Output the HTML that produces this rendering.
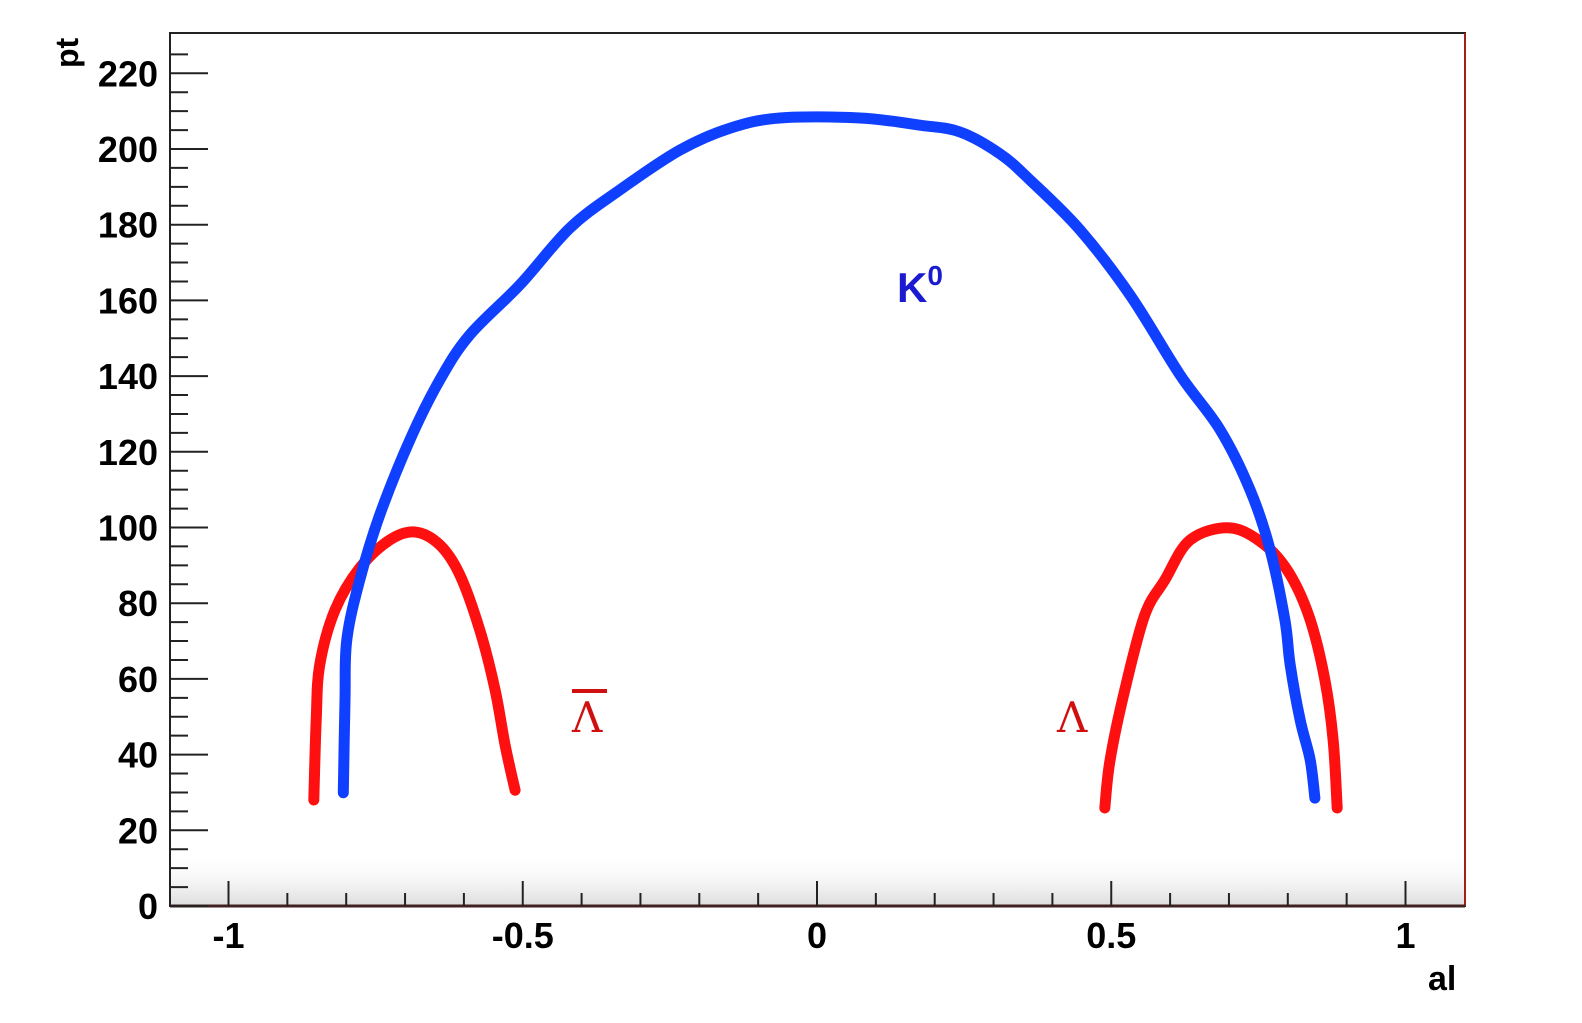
<!DOCTYPE html>
<html><head><meta charset="utf-8"><style>
html,body{margin:0;padding:0;background:#fff;}
svg{display:block;font-family:"Liberation Sans",sans-serif;}
</style></head><body>
<svg id="chart" width="1582" height="1023" viewBox="0 0 1582 1023" xmlns="http://www.w3.org/2000/svg">
<defs><linearGradient id="noise" x1="0" y1="0" x2="0" y2="1"><stop offset="0" stop-color="#fff" stop-opacity="0"/><stop offset="1" stop-color="#bbb" stop-opacity="0.5"/></linearGradient></defs>
<rect x="170" y="850" width="1295" height="56" fill="url(#noise)"/>
<g id="axes"></g>
<g id="series"></g>
<text x="0" y="0" transform="translate(78,68) rotate(-90)" font-size="32" font-weight="bold">pt</text>
<text x="1428" y="990" font-size="34" font-weight="bold">al</text>
<text x="897" y="302" font-size="42" font-weight="bold" fill="#1a1ad0">K<tspan font-size="28" dy="-17">0</tspan></text>
<g><line x1="572" y1="691" x2="607" y2="691" stroke="#d01010" stroke-width="4"/><text x="572" y="732" font-size="42" fill="#d01010" font-family="'DejaVu Serif',serif">Λ</text></g>
<text x="1057" y="732" font-size="42" fill="#d01010" font-family="'DejaVu Serif',serif">Λ</text>
</svg>
<script>
const xTicks=[-1,-0.5,0,0.5,1];
const xTickLabels=["-1","-0.5","0","0.5","1"];
const yTicks=[0,20,40,60,80,100,120,140,160,180,200,220];
const k0Al=[-0.805,-0.802,-0.799,-0.777,-0.743,-0.692,-0.641,-0.590,-0.505,-0.420,-0.335,-0.233,-0.148,-0.063,0.073,0.175,0.243,0.311,0.362,0.447,0.532,0.617,0.685,0.736,0.770,0.795,0.804,0.821,0.838,0.846];
const k0Pt=[29.9,54.4,70.3,86.1,103.3,123.1,139.0,150.9,164.1,179.1,189.2,199.7,205.5,208.2,208.2,206.3,204.5,198.7,191.8,178.6,161.4,140.3,125.8,109.9,94.1,75.6,63.7,49.1,38.6,28.5];
const antiLamAl=[-0.855,-0.851,-0.845,-0.819,-0.777,-0.726,-0.683,-0.641,-0.607,-0.573,-0.547,-0.530,-0.513];
const antiLamPt=[28.0,49.1,63.7,78.2,89.3,96.7,98.8,95.4,87.5,72.9,57.1,42.5,30.6];
const lamAl=[0.489,0.498,0.523,0.557,0.591,0.634,0.702,0.761,0.804,0.838,0.863,0.877,0.884];
const lamPt=[25.9,38.6,57.1,76.9,86.1,96.7,99.9,95.4,87.5,75.6,59.7,43.9,25.9];

const NS="http://www.w3.org/2000/svg";
const X0=170,X1=1465,Y0=33,Y1=906;
const sx=v=>817+v*588.5;
const sy=v=>906-v*3.785;
const ax=document.getElementById('axes'), se=document.getElementById('series');
function mk(tag,attrs,parent){const e=document.createElementNS(NS,tag);for(const k in attrs)e.setAttribute(k,attrs[k]);parent.appendChild(e);return e;}
const frame=mk('rect',{x:X0,y:Y0,width:X1-X0,height:Y1-Y0,fill:'none',stroke:'#222','stroke-width':2},ax);


mk('line',{x1:X1,y1:Y0,x2:X1,y2:Y1,stroke:'#a02020','stroke-width':2},ax);
mk('line',{x1:X0,y1:Y1,x2:X1,y2:Y1,stroke:'#402020','stroke-width':3},ax);
for(let v=0;v<=225;v+=5){const y=sy(v);const major=v%20===0;
 mk('line',{x1:X0,y1:y,x2:X0+(major?38:18),y2:y,stroke:'#222','stroke-width':2},ax);}
yTicks.forEach(v=>{const t=mk('text',{x:158,y:sy(v)+13,'text-anchor':'end','font-size':36,'font-weight':'bold'},ax);t.textContent=String(v);
 
 });
for(let i=-11;i<=10;i++){const v=i/10;const x=sx(v);if(x<X0||x>X1)continue;const major=i%5===0;
 mk('line',{x1:x,y1:Y1,x2:x,y2:Y1-(major?25:13),stroke:'#222','stroke-width':2},ax);}
xTicks.forEach((v,i)=>{const t=mk('text',{x:sx(v),y:948,'text-anchor':'middle','font-size':36,'font-weight':'bold'},ax);t.textContent=xTickLabels[i];
 
 });
function curve(xs,ys,color,name){
 const P=xs.map((v,i)=>[sx(v),sy(ys[i])]);
 let d='M'+P[0][0].toFixed(1)+','+P[0][1].toFixed(1);
 for(let i=0;i<P.length-1;i++){
  const p0=P[Math.max(0,i-1)],p1=P[i],p2=P[i+1],p3=P[Math.min(P.length-1,i+2)];
  const c1=[p1[0]+(p2[0]-p0[0])/6,p1[1]+(p2[1]-p0[1])/6];
  const c2=[p2[0]-(p3[0]-p1[0])/6,p2[1]-(p3[1]-p1[1])/6];
  d+=' C'+c1[0].toFixed(1)+','+c1[1].toFixed(1)+' '+c2[0].toFixed(1)+','+c2[1].toFixed(1)+' '+p2[0].toFixed(1)+','+p2[1].toFixed(1);
 }
 const p=mk('path',{d:d,fill:'none',stroke:color,'stroke-width':11,'stroke-linecap':'round','stroke-linejoin':'round'},se);
 
 
}
curve(antiLamAl,antiLamPt,'#ff1010','antilambda-curve');
curve(lamAl,lamPt,'#ff1010','lambda-curve');
curve(k0Al,k0Pt,'#1040ff','k0-curve');
</script>
</body></html>
